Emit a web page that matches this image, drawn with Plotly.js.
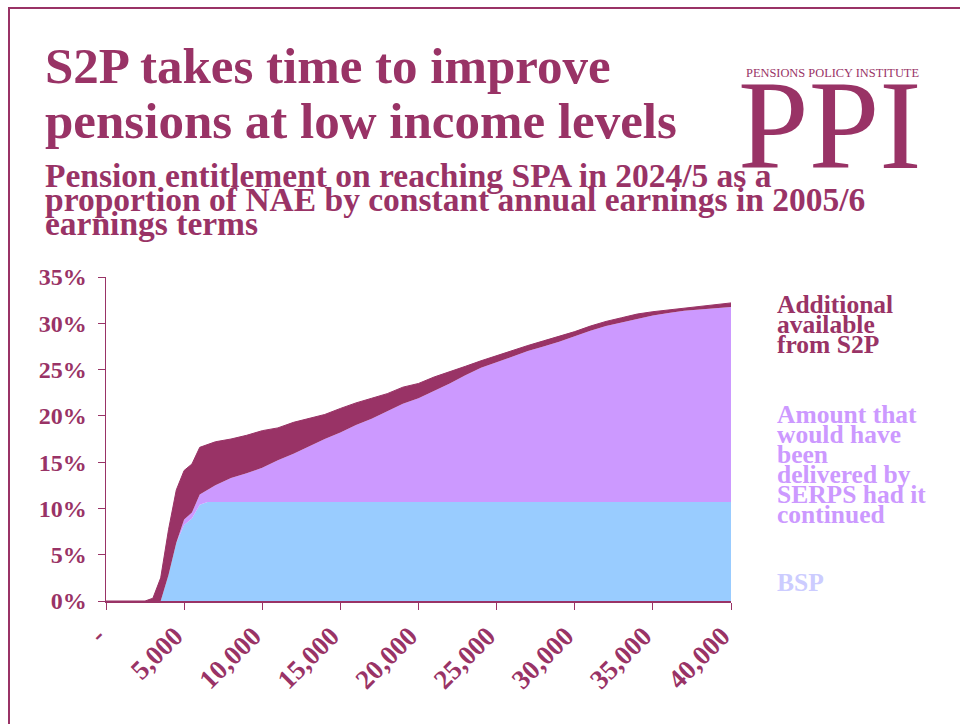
<!DOCTYPE html>
<html>
<head>
<meta charset="utf-8">
<script src="https://cdn.plot.ly/plotly-3.0.1.min.js"></script>
<style>html,body{margin:0;padding:0;background:#fff;}#chart{width:960px;height:724px;}</style>
</head>
<body>
<div id="chart"></div>
<script>
// ---- data (percent of NAE) ----
const earnings = [0,500,1000,1500,2000,2500,3000,3500,4000,4500,5000,5500,6000,6500,7000,
  8000,9000,10000,11000,12000,13000,14000,15000,16000,17000,18000,19000,20000,21000,22000,
  23000,24000,25000,26000,27000,28000,29000,30000,31000,32000,33000,34000,35000,36000,37000,
  38000,39000,40000];
const bsp = [0,0,0,0,0,0,0,0,2.8,6.3,8.2,8.9,10.4,10.7,10.7,
  10.7,10.7,10.7,10.7,10.7,10.7,10.7,10.7,10.7,10.7,10.7,10.7,10.7,10.7,10.7,
  10.7,10.7,10.7,10.7,10.7,10.7,10.7,10.7,10.7,10.7,10.7,10.7,10.7,10.7,10.7,
  10.7,10.7,10.7];
const serps = [0,0,0,0,0,0,0,0,0,0,0.6,0.65,1.1,1.3,1.8,
  2.6,3.1,3.7,4.5,5.2,6.0,6.8,7.5,8.3,9.0,9.8,10.6,11.2,12.0,12.8,
  13.7,14.5,15.1,15.7,16.3,16.8,17.3,17.9,18.5,19.0,19.4,19.8,20.15,20.4,20.65,
  20.8,20.9,21.05];
const s2p = [0,0,0,0,0,0,0.3,2.5,4.9,5.7,5.3,5.25,5.1,4.9,4.7,
  4.2,4.1,4.0,3.5,3.4,3.05,2.65,2.6,2.4,2.2,1.9,1.8,1.6,1.5,1.25,
  0.95,0.75,0.7,0.7,0.6,0.6,0.6,0.5,0.5,0.5,0.5,0.5,0.4,0.35,0.3,
  0.35,0.4,0.45];
const xTickVals = [0,5000,10000,15000,20000,25000,30000,35000,40000];
const xTickText = ['-','5,000','10,000','15,000','20,000','25,000','30,000','35,000','40,000'];
const seriesNames = ['BSP','Amount that would have been delivered by SERPS had it continued','Additional available from S2P'];
const titleLines = ['S2P takes time to improve','pensions at low income levels'];
const subtitleLines = ['Pension entitlement on reaching SPA in 2024/5 as a',
  'proportion of NAE by constant annual earnings in 2005/6','earnings terms'];
const labelS2P = ['Additional','available','from S2P'];
const labelSERPS = ['Amount that','would have','been','delivered by','SERPS had it','continued'];
const labelBSP = ['BSP'];
const logoSmall = 'PENSIONS POLICY INSTITUTE';
const logoBig = 'PPI';

// ---- layout helpers ----
const ML = 106, MR = 229, MT = 277, MB = 123;
const PW = 960 - ML - MR, PH = 724 - MT - MB;
const px = v => (v - ML) / PW;
const py = v => (724 - MB - v) / PH;
const MAROON = '#993366';
const SERIF = 'Liberation Serif, Times New Roman, serif';

const annotations = [];
function txt(text, x, baseline, size, color, weight) {
  annotations.push({
    xref: 'paper', yref: 'paper', x: px(x), y: py(baseline - 0.34 * size),
    xanchor: 'left', yanchor: 'middle', showarrow: false, text: text,
    borderpad: 0,
    font: {family: SERIF, size: size, color: color, weight: weight || 'bold'}
  });
}
titleLines.forEach((t, i) => txt(t, 44, [83, 138][i], 51, MAROON));
subtitleLines.forEach((t, i) => txt(t, 44, [187, 211, 235][i], 33.5, MAROON));
labelS2P.forEach((t, i) => txt(t, 776, 313 + 20 * i, 25.5, MAROON));
labelSERPS.forEach((t, i) => txt(t, 776, 423 + 20 * i, 25.5, '#CC99FF'));
labelBSP.forEach(t => txt(t, 776, 591, 25.5, '#CCCCFF'));
txt(logoSmall, 745, 77, 12.4, MAROON, 'normal');
txt(logoBig, 737, 168, 127, MAROON, 'normal');

const traces = [
  {x: earnings, y: bsp, name: seriesNames[0], stackgroup: 'one', mode: 'lines',
   line: {width: 0, color: '#99CCFF'}, fillcolor: '#99CCFF'},
  {x: earnings, y: serps, name: seriesNames[1], stackgroup: 'one', mode: 'lines',
   line: {width: 0, color: '#CC99FF'}, fillcolor: '#CC99FF'},
  {x: earnings, y: s2p, name: seriesNames[2], stackgroup: 'one', mode: 'lines',
   line: {width: 1, color: MAROON}, fillcolor: MAROON}
];

const yTickFont = {family: SERIF, size: 24, color: MAROON, weight: 'bold'};
const xTickFont = {family: SERIF, size: 27, color: MAROON, weight: 'bold'};
const layout = {
  width: 960, height: 724,
  margin: {l: ML, r: MR, t: MT, b: MB, pad: 0},
  paper_bgcolor: '#ffffff', plot_bgcolor: '#ffffff',
  showlegend: false,
  xaxis: {
    range: [0, 40000], tickmode: 'array', tickvals: xTickVals, ticktext: xTickText,
    tickangle: -45, ticks: 'outside', ticklen: 7, tickwidth: 1, tickcolor: MAROON,
    showline: true, linecolor: MAROON, linewidth: 1.5, showgrid: false, zeroline: false,
    tickfont: xTickFont, ticklabelshift: -9, ticklabelstandoff: 0, fixedrange: true
  },
  yaxis: {
    range: [0, 35], dtick: 5, ticksuffix: '%', ticks: 'outside', ticklen: 7, tickwidth: 1,
    tickcolor: MAROON, showline: true, linecolor: MAROON, linewidth: 1.5, showgrid: false,
    zeroline: false, tickfont: yTickFont, ticklabelstandoff: 6, fixedrange: true
  },
  annotations: annotations,
  shapes: [{
    type: 'rect', xref: 'paper', yref: 'paper', x0: px(9), x1: px(990), y0: py(8), y1: py(760),
    line: {color: MAROON, width: 2}, fillcolor: 'rgba(0,0,0,0)', layer: 'below'
  }]
};
Plotly.newPlot('chart', traces, layout, {displayModeBar: false, staticPlot: true});
</script>
</body>
</html>
